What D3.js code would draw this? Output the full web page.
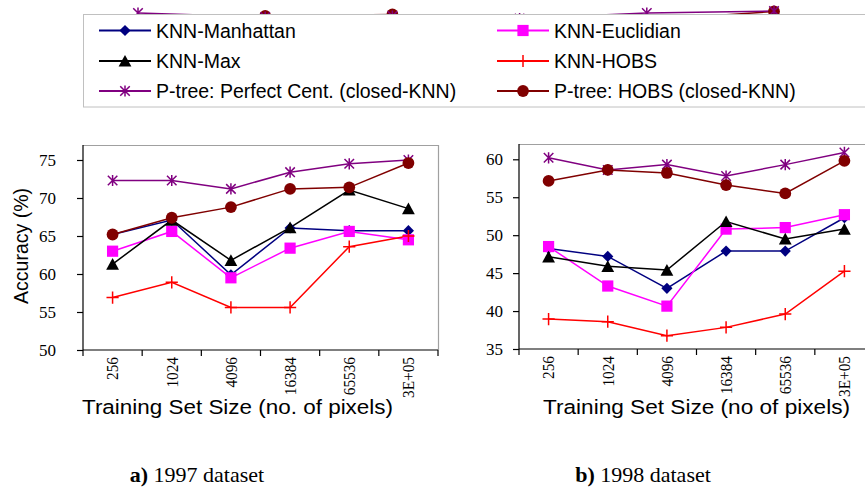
<!DOCTYPE html>
<html><head><meta charset="utf-8">
<script src="https://cdn.jsdelivr.net/npm/d3@7"></script>
<style>
html,body{margin:0;padding:0;background:#fff;}
svg{display:block;}
</style></head>
<body>
<svg id="chart" width="865" height="491"></svg>
<script>
// ---------------- DATA ----------------
const categories = ["256", "1024", "4096", "16384", "65536", "3E+05"];

const seriesNames = ["KNN-Manhattan", "KNN-Euclidian", "KNN-Max", "KNN-HOBS",
  "P-tree: Perfect Cent. (closed-KNN)", "P-tree: HOBS (closed-KNN)"];

// 1997 dataset
const manhattan97 = [65.2, 67.1, 59.9, 66.05, 65.7, 65.7];
const euclidian97 = [63.0, 65.6, 59.5, 63.4, 65.6, 64.5];
const max97       = [61.3, 67.1, 61.8, 66.1, 71.05, 68.6];
const hobs97      = [56.9, 58.9, 55.6, 55.6, 63.6, 65.0];
const perfect97   = [72.3, 72.3, 71.2, 73.4, 74.5, 75.0];
const ptreeHobs97 = [65.2, 67.4, 68.8, 71.2, 71.4, 74.6];

// 1998 dataset
const manhattan98 = [48.25, 47.2, 43.0, 47.9, 47.9, 52.3];
const euclidian98 = [48.5, 43.3, 40.65, 50.8, 51.0, 52.7];
const max98       = [47.15, 45.9, 45.4, 51.8, 49.5, 50.8];
const hobs98      = [38.95, 38.6, 36.75, 37.85, 39.6, 45.25];
const perfect98   = [60.2, 58.6, 59.3, 57.8, 59.3, 60.9];
const ptreeHobs98 = [57.15, 58.6, 58.2, 56.6, 55.5, 59.8];

const yTicks97 = [50, 55, 60, 65, 70, 75];
const yTicks98 = [35, 40, 45, 50, 55, 60];

// cropped remains of a figure above (partially hidden by the legend)
const abovePerfect = [5.5, 3.5, 4.0, 2.75, 5.5, 6.5];
const aboveHobs    = [2.0, 4.0, 4.75, 2.0, 2.0, 6.25];

const captions = [["a)", " 1997 dataset"], ["b)", " 1998 dataset"]];
const xTitles = ["Training Set Size (no. of pixels)", "Training Set Size (no of pixels)"];
const yTitle = "Accuracy (%)";

// ---------------- STYLE ----------------
const styles = [
  {color: "#000080", marker: "diamond"},
  {color: "#ff00ff", marker: "square"},
  {color: "#000000", marker: "triangle"},
  {color: "#ff0000", marker: "plus"},
  {color: "#800080", marker: "star"},
  {color: "#800000", marker: "circle"}
];
const SANS = "'Liberation Sans', Arial, sans-serif";
const SERIF = "'Liberation Serif', 'Times New Roman', serif";

function drawMarker(g, type, x, y, color) {
  const s = 5.6;
  if (type === "diamond") {
    g.append("path").attr("d", `M${x},${y-s}L${x+s},${y}L${x},${y+s}L${x-s},${y}Z`).attr("fill", color);
  } else if (type === "square") {
    g.append("rect").attr("x", x-s).attr("y", y-s).attr("width", 2*s).attr("height", 2*s).attr("fill", color);
  } else if (type === "triangle") {
    g.append("path").attr("d", `M${x},${y-s-0.5}L${x+s+0.8},${y+s}L${x-s-0.8},${y+s}Z`).attr("fill", color);
  } else if (type === "plus") {
    g.append("path").attr("d", `M${x-s-0.5},${y}H${x+s+0.5}M${x},${y-s-0.5}V${y+s+0.5}`)
      .attr("stroke", color).attr("stroke-width", 1.5).attr("fill", "none");
  } else if (type === "star") {
    const d = s * 0.85;
    g.append("path").attr("d", `M${x-d},${y-d}L${x+d},${y+d}M${x-d},${y+d}L${x+d},${y-d}M${x},${y-s}V${y+s}`)
      .attr("stroke", color).attr("stroke-width", 1.5).attr("fill", "none");
  } else if (type === "circle") {
    g.append("circle").attr("cx", x).attr("cy", y).attr("r", s+0.3).attr("fill", color);
  }
}

const svg = d3.select("#chart");

// ---------------- cropped figure above ----------------
{
  const xa = d3.scaleBand().domain(categories).range([74.4, 837.6]);
  const ya = d3.scaleLinear().domain([0, 10]).range([24, 4]);
  const g = svg.append("g");
  const line = d3.line().x((d, i) => xa(categories[i]) + xa.bandwidth()/2).y(d => ya(d));
  g.append("path").datum(aboveHobs).attr("d", line).attr("fill", "none").attr("stroke", "#800000").attr("stroke-width", 1.5);
  g.append("path").datum(abovePerfect).attr("d", line).attr("fill", "none").attr("stroke", "#800080").attr("stroke-width", 1.5);
  aboveHobs.forEach((v, i) => drawMarker(g, "circle", xa(categories[i]) + xa.bandwidth()/2, ya(v), "#800000"));
  abovePerfect.forEach((v, i) => drawMarker(g, "star", xa(categories[i]) + xa.bandwidth()/2, ya(v), "#800080"));
}

// ---------------- legend ----------------
{
  const g = svg.append("g");
  g.append("rect").attr("x", 83.5).attr("y", 14.5).attr("width", 820).attr("height", 92.5)
    .attr("fill", "#fff").attr("stroke", "#c0c0c0").attr("stroke-width", 1);
  const colX = [99, 497];
  const rowY = [30.5, 61, 91];
  seriesNames.forEach((name, i) => {
    const cx = colX[i % 2], cy = rowY[Math.floor(i / 2)];
    const st = styles[i];
    g.append("line").attr("x1", cx).attr("x2", cx + 52).attr("y1", cy).attr("y2", cy)
      .attr("stroke", st.color).attr("stroke-width", 2);
    drawMarker(g, st.marker, cx + 26, cy, st.color);
    g.append("text").attr("x", cx + 57).attr("y", cy).attr("dy", "0.36em")
      .attr("font-family", SANS).attr("font-size", 19.5).attr("fill", "#000").text(name);
  });
}

// ---------------- panels ----------------
function panel(opts) {
  const {x0, x1, yTop, yTopVal, yBot, ticks, series, labelRight, xTitle, caption, titleX, titleW, captionX} = opts;
  const g = svg.append("g");
  const x = d3.scaleBand().domain(categories).range([x0, x1]);
  const y = d3.scaleLinear().domain([ticks[0], ticks[ticks.length-1]]).range([yBot, yTopVal]);

  // frame (gray top & right)
  g.append("path").attr("d", `M${x0},${yTop+0.5}H${x1+0.5}V${yBot}`)
    .attr("fill", "none").attr("stroke", "#a0a0a0").attr("stroke-width", 1.2);

  // y axis
  const ya = g.append("g").attr("transform", `translate(${x0},0)`)
    .call(d3.axisLeft(y).tickValues(ticks).tickSize(6).tickSizeOuter(0).tickFormat(d3.format("d")));
  ya.select(".domain").remove();
  ya.append("line").attr("x1", 0).attr("x2", 0).attr("y1", yTop).attr("y2", yBot).attr("stroke", "#000").attr("stroke-width", 1.2);
  ya.selectAll(".tick line").attr("stroke", "#000").attr("stroke-width", 1.2);
  ya.selectAll(".tick text").attr("font-family", SERIF).attr("font-size", 17).attr("fill", "#000")
    .attr("x", labelRight - x0).attr("text-anchor", "end");

  // x axis
  const xa = g.append("g").attr("transform", `translate(0,${yBot})`)
    .call(d3.axisBottom(x).tickSize(0).tickSizeOuter(0));
  xa.select(".domain").remove();
  xa.append("line").attr("x1", x0).attr("x2", x1).attr("y1", 0).attr("y2", 0).attr("stroke", "#000").attr("stroke-width", 1.2);
  const edges = categories.map(c => x(c)).concat([x1]);
  xa.selectAll(".edge").data(edges).enter().append("line").attr("class", "edge")
    .attr("x1", d => d).attr("x2", d => d).attr("y1", 0).attr("y2", 6).attr("stroke", "#000").attr("stroke-width", 1.2);
  xa.selectAll(".tick text")
    .attr("font-family", SERIF).attr("font-size", 17).attr("fill", "#000")
    .attr("text-anchor", "end").attr("dy", null).attr("y", 0)
    .attr("transform", `translate(5.8,7) rotate(-90) scale(0.9,1)`);

  // series lines and markers
  const cx = c => x(c) + x.bandwidth() / 2;
  const clip = g.append("g");
  series.forEach((vals, si) => {
    const st = styles[si];
    const line = d3.line().x((d, i) => cx(categories[i])).y(d => y(d));
    clip.append("path").datum(vals).attr("d", line).attr("fill", "none")
      .attr("stroke", st.color).attr("stroke-width", 1.5);
  });
  series.forEach((vals, si) => {
    const st = styles[si];
    vals.forEach((v, i) => drawMarker(clip, st.marker, cx(categories[i]), y(v), st.color));
  });

  // x title
  g.append("text").attr("x", titleX).attr("y", 414).attr("text-anchor", "middle")
    .attr("font-family", SANS).attr("font-size", 20.5).attr("fill", "#000")
    .attr("textLength", titleW).attr("lengthAdjust", "spacingAndGlyphs").text(xTitle);

  // caption
  const t = g.append("text").attr("x", captionX).attr("y", 482).attr("text-anchor", "middle")
    .attr("font-family", SERIF).attr("font-size", 22).attr("fill", "#000");
  t.append("tspan").attr("font-weight", "bold").text(caption[0]);
  t.append("tspan").text(caption[1]);
}

const order97 = [manhattan97, euclidian97, max97, hobs97, perfect97, ptreeHobs97];
const order98 = [manhattan98, euclidian98, max98, hobs98, perfect98, ptreeHobs98];

panel({x0: 83, x1: 438, yTop: 145, yTopVal: 160, yBot: 350, ticks: yTicks97, series: order97,
  labelRight: 56, xTitle: xTitles[0], caption: captions[0], titleX: 237.5, titleW: 311, captionX: 197});
panel({x0: 519, x1: 874, yTop: 144, yTopVal: 159.3, yBot: 349, ticks: yTicks98, series: order98,
  labelRight: 503, xTitle: xTitles[1], caption: captions[1], titleX: 696.5, titleW: 307, captionX: 643});

// y title
svg.append("text").attr("transform", "translate(28,246) rotate(-90)").attr("text-anchor", "middle")
  .attr("font-family", SANS).attr("font-size", 19.5).attr("fill", "#000").text(yTitle);
</script>
</body></html>
